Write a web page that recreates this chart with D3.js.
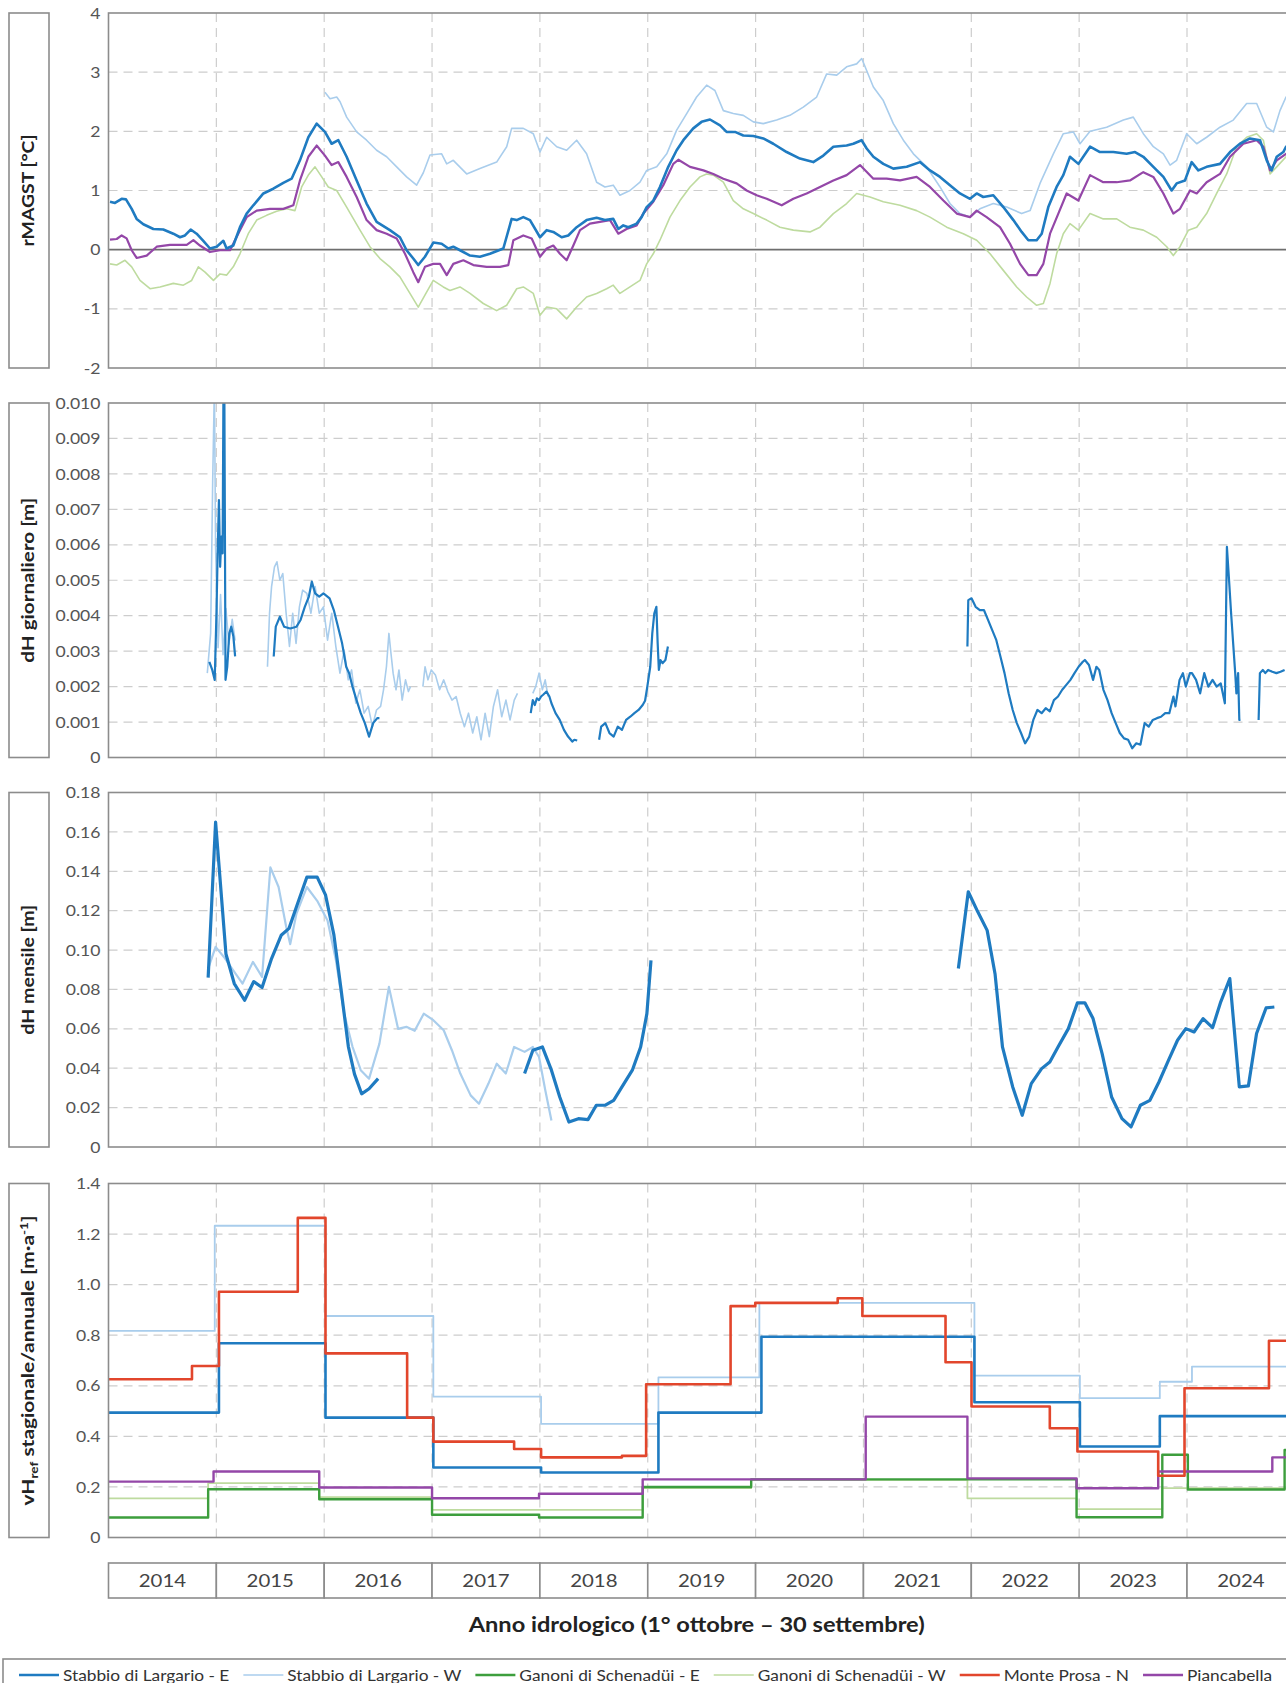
<!DOCTYPE html>
<html>
<head>
<meta charset="utf-8">
<script src="https://cdn.jsdelivr.net/npm/d3@7"></script>
<style>
  body { margin: 0; background: #fff; }
  svg { display: block; }
  text { font-family: Lato, "Open Sans", sans-serif; }
</style>
</head>
<body>
<svg id="chart"></svg>
<script>
// tempo t = anni trascorsi dal 1° ottobre 2013 (inizio anno idrologico 2014)
var anni = ["2014", "2015", "2016", "2017", "2018", "2019", "2020", "2021", "2022", "2023", "2024"];

var tickMagst = [-2, -1, 0, 1, 2, 3, 4];
var tickMagstLabels = ["-2", "-1", "0", "1", "2", "3", "4"];
var tickGiorn = [0, 0.001, 0.002, 0.003, 0.004, 0.005, 0.006, 0.007, 0.008, 0.009, 0.010];
var tickGiornLabels = ["0", "0.001", "0.002", "0.003", "0.004", "0.005", "0.006", "0.007", "0.008", "0.009", "0.010"];
var tickMens = [0, 0.02, 0.04, 0.06, 0.08, 0.10, 0.12, 0.14, 0.16, 0.18];
var tickMensLabels = ["0", "0.02", "0.04", "0.06", "0.08", "0.10", "0.12", "0.14", "0.16", "0.18"];
var tickVel = [0, 0.2, 0.4, 0.6, 0.8, 1.0, 1.2, 1.4];
var tickVelLabels = ["0", "0.2", "0.4", "0.6", "0.8", "1.0", "1.2", "1.4"];

// rMAGST [°C]
var magstStabbioE = [[0.014,0.81],[0.06,0.79],[0.122,0.86],[0.162,0.85],[0.215,0.69],[0.261,0.52],[0.323,0.43],[0.416,0.35],[0.508,0.34],[0.601,0.27],[0.663,0.21],[0.709,0.24],[0.762,0.34],[0.817,0.27],[0.879,0.15],[0.941,0.02],[1.003,0.05],[1.065,0.15],[1.095,0.02],[1.157,0.07],[1.219,0.38],[1.281,0.61],[1.343,0.75],[1.436,0.95],[1.528,1.03],[1.621,1.13],[1.698,1.2],[1.775,1.51],[1.853,1.9],[1.93,2.13],[2.007,1.99],[2.069,1.79],[2.131,1.85],[2.208,1.57],[2.301,1.17],[2.393,0.78],[2.486,0.47],[2.609,0.33],[2.702,0.21],[2.764,-0.01],[2.826,-0.15],[2.872,-0.26],[2.934,-0.12],[3.012,0.12],[3.089,0.1],[3.151,0.02],[3.197,0.05],[3.259,-0.01],[3.352,-0.1],[3.444,-0.12],[3.537,-0.07],[3.661,0.02],[3.738,0.52],[3.785,0.5],[3.846,0.55],[3.908,0.5],[4.001,0.21],[4.063,0.33],[4.124,0.3],[4.202,0.21],[4.263,0.24],[4.341,0.38],[4.433,0.5],[4.526,0.54],[4.603,0.5],[4.68,0.52],[4.727,0.35],[4.773,0.41],[4.82,0.38],[4.897,0.44],[4.943,0.55],[4.99,0.72],[5.051,0.83],[5.113,1.06],[5.19,1.4],[5.268,1.68],[5.33,1.85],[5.422,2.05],[5.499,2.16],[5.577,2.2],[5.67,2.1],[5.731,1.99],[5.809,1.99],[5.886,1.93],[5.979,1.92],[6.071,1.88],[6.164,1.79],[6.288,1.65],[6.411,1.54],[6.535,1.48],[6.628,1.59],[6.721,1.74],[6.844,1.76],[6.906,1.79],[6.983,1.85],[7.03,1.71],[7.092,1.57],[7.184,1.45],[7.277,1.37],[7.401,1.4],[7.524,1.48],[7.617,1.34],[7.71,1.23],[7.802,1.09],[7.895,0.95],[7.988,0.86],[8.05,0.95],[8.111,0.89],[8.204,0.92],[8.297,0.72],[8.39,0.5],[8.467,0.3],[8.529,0.16],[8.606,0.16],[8.653,0.27],[8.714,0.72],[8.791,1.06],[8.853,1.26],[8.915,1.57],[8.993,1.45],[9.101,1.74],[9.193,1.65],[9.317,1.65],[9.44,1.62],[9.518,1.65],[9.595,1.57],[9.688,1.4],[9.781,1.23],[9.858,1.0],[9.904,1.12],[9.981,1.17],[10.043,1.48],[10.105,1.34],[10.182,1.4],[10.306,1.45],[10.399,1.65],[10.491,1.79],[10.584,1.88],[10.677,1.85],[10.739,1.51],[10.785,1.34],[10.832,1.57],[10.893,1.65],[10.918,1.74],[11.0,1.78]];
var magstStabbioW = [[2.007,2.66],[2.054,2.55],[2.116,2.58],[2.147,2.5],[2.208,2.24],[2.301,1.99],[2.393,1.85],[2.486,1.68],[2.579,1.57],[2.672,1.4],[2.764,1.23],[2.857,1.09],[2.919,1.3],[2.981,1.6],[3.089,1.62],[3.136,1.45],[3.197,1.51],[3.321,1.28],[3.444,1.37],[3.599,1.48],[3.692,1.74],[3.738,2.05],[3.846,2.05],[3.939,1.96],[4.001,1.65],[4.063,1.9],[4.156,1.74],[4.248,1.68],[4.341,1.85],[4.433,1.62],[4.526,1.14],[4.603,1.06],[4.68,1.09],[4.742,0.92],[4.835,1.0],[4.928,1.14],[4.99,1.34],[5.083,1.4],[5.176,1.62],[5.268,2.02],[5.361,2.3],[5.453,2.58],[5.546,2.78],[5.623,2.69],[5.701,2.35],[5.793,2.3],[5.886,2.27],[5.979,2.16],[6.071,2.13],[6.195,2.19],[6.318,2.27],[6.442,2.41],[6.566,2.58],[6.659,2.97],[6.752,2.95],[6.844,3.09],[6.937,3.14],[6.984,3.23],[7.092,2.75],[7.184,2.52],[7.277,2.13],[7.37,1.85],[7.463,1.62],[7.586,1.4],[7.71,1.06],[7.802,0.78],[7.895,0.61],[7.988,0.55],[8.08,0.69],[8.204,0.78],[8.328,0.72],[8.467,0.61],[8.545,0.66],[8.637,1.12],[8.761,1.62],[8.853,1.96],[8.946,1.99],[9.008,1.79],[9.101,2.0],[9.255,2.07],[9.41,2.19],[9.502,2.24],[9.595,1.96],[9.688,1.74],[9.781,1.62],[9.843,1.43],[9.904,1.51],[9.997,1.96],[10.09,1.79],[10.182,1.9],[10.306,2.07],[10.429,2.19],[10.553,2.47],[10.646,2.47],[10.739,2.07],[10.801,1.99],[10.862,2.35],[10.918,2.58],[11.0,2.62]];
var magstGanoniW = [[0.014,-0.24],[0.076,-0.26],[0.153,-0.18],[0.215,-0.29],[0.292,-0.52],[0.385,-0.66],[0.478,-0.63],[0.601,-0.57],[0.694,-0.6],[0.771,-0.52],[0.833,-0.29],[0.895,-0.38],[0.973,-0.52],[1.034,-0.41],[1.096,-0.43],[1.157,-0.29],[1.219,-0.07],[1.296,0.27],[1.374,0.5],[1.466,0.58],[1.559,0.65],[1.652,0.69],[1.729,0.66],[1.791,1.06],[1.853,1.26],[1.915,1.4],[1.977,1.23],[2.038,1.06],[2.116,1.0],[2.208,0.72],[2.332,0.33],[2.424,0.05],[2.517,-0.15],[2.609,-0.29],[2.702,-0.46],[2.795,-0.74],[2.872,-0.97],[2.934,-0.77],[3.011,-0.52],[3.104,-0.63],[3.166,-0.69],[3.259,-0.63],[3.352,-0.74],[3.475,-0.91],[3.599,-1.03],[3.692,-0.94],[3.785,-0.66],[3.846,-0.63],[3.939,-0.74],[4.001,-1.11],[4.063,-0.97],[4.156,-1.0],[4.248,-1.17],[4.341,-0.97],[4.433,-0.8],[4.526,-0.74],[4.619,-0.66],[4.68,-0.6],[4.742,-0.74],[4.835,-0.63],[4.928,-0.52],[4.99,-0.24],[5.051,-0.07],[5.113,0.16],[5.206,0.55],[5.299,0.83],[5.392,1.06],[5.484,1.23],[5.546,1.28],[5.608,1.26],[5.701,1.14],[5.793,0.83],[5.886,0.69],[5.979,0.61],[6.103,0.5],[6.226,0.38],[6.35,0.33],[6.504,0.3],[6.597,0.38],[6.721,0.61],[6.844,0.78],[6.937,0.95],[7.061,0.89],[7.184,0.81],[7.339,0.75],[7.493,0.66],[7.617,0.55],[7.772,0.38],[7.926,0.27],[8.05,0.16],[8.174,-0.07],[8.297,-0.35],[8.421,-0.63],[8.513,-0.8],[8.606,-0.94],[8.668,-0.91],[8.73,-0.57],[8.791,-0.07],[8.853,0.27],[8.915,0.44],[8.993,0.33],[9.101,0.61],[9.224,0.52],[9.348,0.52],[9.471,0.38],[9.595,0.33],[9.719,0.21],[9.812,0.05],[9.873,-0.1],[9.935,0.05],[10.013,0.33],[10.09,0.38],[10.182,0.61],[10.275,0.95],[10.368,1.28],[10.46,1.74],[10.553,1.9],[10.646,1.96],[10.708,1.85],[10.77,1.28],[10.832,1.4],[10.918,1.57],[11.0,1.6]];
var magstPiancabella = [[0.014,0.17],[0.076,0.18],[0.122,0.24],[0.168,0.19],[0.215,-0.01],[0.261,-0.14],[0.354,-0.1],[0.447,0.05],[0.57,0.08],[0.725,0.08],[0.787,0.16],[0.848,0.07],[0.941,-0.04],[1.034,-0.01],[1.127,-0.01],[1.219,0.33],[1.281,0.55],[1.374,0.66],[1.497,0.69],[1.621,0.69],[1.714,0.75],[1.775,1.17],[1.853,1.57],[1.93,1.76],[2.007,1.59],[2.069,1.43],[2.131,1.48],[2.208,1.23],[2.301,0.89],[2.393,0.5],[2.486,0.33],[2.579,0.27],[2.672,0.19],[2.749,-0.07],[2.826,-0.38],[2.872,-0.55],[2.934,-0.29],[3.011,-0.24],[3.074,-0.24],[3.136,-0.43],[3.197,-0.24],[3.29,-0.18],[3.383,-0.26],[3.506,-0.29],[3.63,-0.29],[3.707,-0.26],[3.754,0.16],[3.846,0.24],[3.924,0.19],[4.001,-0.12],[4.063,0.02],[4.124,0.07],[4.186,-0.07],[4.248,-0.18],[4.31,0.07],[4.372,0.33],[4.464,0.44],[4.557,0.47],[4.65,0.5],[4.727,0.27],[4.804,0.35],[4.897,0.41],[4.959,0.61],[5.051,0.81],[5.144,1.09],[5.237,1.45],[5.284,1.52],[5.392,1.4],[5.516,1.34],[5.608,1.28],[5.701,1.2],[5.824,1.12],[5.917,1.0],[6.01,0.92],[6.103,0.86],[6.242,0.75],[6.35,0.86],[6.473,0.95],[6.597,1.06],[6.721,1.17],[6.844,1.26],[6.968,1.43],[7.092,1.2],[7.215,1.2],[7.339,1.17],[7.493,1.23],[7.617,1.06],[7.741,0.83],[7.865,0.61],[7.988,0.55],[8.05,0.66],[8.142,0.55],[8.266,0.38],[8.359,0.1],[8.452,-0.24],[8.529,-0.43],[8.606,-0.43],[8.668,-0.24],[8.73,0.27],[8.807,0.61],[8.884,0.95],[8.993,0.83],[9.101,1.26],[9.224,1.14],[9.348,1.14],[9.471,1.17],[9.595,1.31],[9.688,1.23],[9.781,0.95],[9.873,0.61],[9.935,0.69],[10.028,1.0],[10.09,0.95],[10.182,1.14],[10.306,1.28],[10.399,1.57],[10.522,1.79],[10.646,1.85],[10.708,1.74],[10.77,1.34],[10.832,1.51],[10.918,1.62],[11.0,1.66]];

// dH giornaliero [m]  (null = interruzione della serie)
var dhGiornStabbioE = [[0.935,0.0027],[0.962,0.00247],[0.985,0.00219],[1.001,0.00407],[1.012,0.00576],[1.024,0.00726],[1.035,0.00538],[1.047,0.00623],[1.058,0.00576],[1.066,0.0105],[1.074,0.0105],[1.085,0.00219],[1.101,0.00256],[1.12,0.0035],[1.139,0.00369],[1.158,0.00341],[1.174,0.00285],[1.3,null],
  [1.532,0.00285],[1.551,0.00369],[1.589,0.00397],[1.628,0.00369],[1.685,0.00364],[1.743,0.00369],[1.781,0.00388],[1.82,0.00425],[1.858,0.00454],[1.885,0.00496],[1.916,0.00463],[1.954,0.00454],[1.993,0.00463],[2.05,0.00449],[2.089,0.00416],[2.128,0.00369],[2.166,0.00322],[2.204,0.00256],[2.231,0.00238],[2.262,0.002],[2.3,0.00162],[2.339,0.00125],[2.377,0.00097],[2.416,0.00059],[2.454,0.00097],[2.492,0.00111],[2.512,0.00111],[3.0,null],
  [3.915,0.00125],[3.934,0.00162],[3.953,0.00148],[3.972,0.00167],[3.992,0.00162],[4.011,0.00172],[4.03,0.00177],[4.061,0.00186],[4.088,0.00172],[4.107,0.00153],[4.145,0.00125],[4.184,0.00106],[4.223,0.00078],[4.261,0.00059],[4.3,0.00045],[4.319,0.0005],[4.346,0.00048],[4.45,null],
  [4.549,0.0005],[4.568,0.00087],[4.607,0.00097],[4.645,0.00069],[4.684,0.00059],[4.722,0.00087],[4.761,0.00078],[4.799,0.00106],[4.838,0.00115],[4.876,0.00125],[4.915,0.00134],[4.953,0.00148],[4.975,0.0016],[4.996,0.002],[5.023,0.00256],[5.042,0.0035],[5.061,0.00407],[5.08,0.00425],[5.092,0.00322],[5.103,0.00247],[5.118,0.00275],[5.137,0.00266],[5.164,0.00275],[5.187,0.00313],[6.0,null],
  [7.964,0.00313],[7.972,0.00444],[8.002,0.00449],[8.04,0.00425],[8.079,0.00416],[8.117,0.00416],[8.155,0.00388],[8.193,0.0036],[8.232,0.00331],[8.27,0.00285],[8.308,0.00238],[8.346,0.00181],[8.384,0.00134],[8.422,0.00097],[8.461,0.00069],[8.499,0.0004],[8.537,0.00059],[8.575,0.00106],[8.613,0.00134],[8.652,0.00125],[8.69,0.00139],[8.728,0.0013],[8.766,0.00162],[8.804,0.00172],[8.843,0.00191],[8.881,0.00205],[8.919,0.00219],[8.957,0.00238],[8.995,0.00256],[9.034,0.0027],[9.053,0.00275],[9.091,0.00261],[9.129,0.00219],[9.16,0.00256],[9.186,0.00247],[9.225,0.00191],[9.263,0.00162],[9.301,0.00125],[9.339,0.00097],[9.377,0.00069],[9.416,0.00054],[9.454,0.0005],[9.492,0.00026],[9.53,0.0004],[9.568,0.00036],[9.607,0.00097],[9.645,0.00087],[9.683,0.00106],[9.721,0.00111],[9.759,0.00115],[9.798,0.00125],[9.836,0.00125],[9.874,0.00172],[9.893,0.00144],[9.931,0.00219],[9.962,0.00238],[9.989,0.002],[10.027,0.00238],[10.046,0.00238],[10.084,0.00219],[10.122,0.00181],[10.16,0.00238],[10.198,0.002],[10.237,0.00219],[10.275,0.002],[10.313,0.00209],[10.351,0.00153],[10.37,0.00594],[10.39,0.005],[10.409,0.00407],[10.428,0.00322],[10.447,0.00238],[10.458,0.00181],[10.474,0.00238],[10.485,0.00106],[10.496,0.00106],[10.58,null],
  [10.664,0.00106],[10.676,0.00238],[10.703,0.00247],[10.726,0.00238],[10.752,0.00247],[10.791,0.00242],[10.829,0.00238],[10.867,0.00242],[10.905,0.00247]];
var dhGiornStabbioW = [[0.916,0.00238],[0.947,0.0035],[0.966,0.0078],[0.982,0.0105],[0.993,0.0059],[1.016,0.0031],[1.039,0.0046],[1.062,0.0029],[1.089,0.0042],[1.116,0.0032],[1.147,0.0039],[1.174,0.0033],[1.3,null],
  [1.474,0.00256],[1.493,0.00407],[1.512,0.00482],[1.539,0.00538],[1.562,0.00552],[1.589,0.005],[1.616,0.00519],[1.647,0.00407],[1.678,0.00313],[1.708,0.00407],[1.739,0.00322],[1.77,0.00425],[1.8,0.00472],[1.839,0.00463],[1.877,0.00407],[1.916,0.00482],[1.954,0.00407],[1.993,0.00425],[2.031,0.00331],[2.07,0.00407],[2.108,0.00313],[2.146,0.00238],[2.185,0.00303],[2.223,0.00219],[2.254,0.00247],[2.293,0.00153],[2.331,0.00191],[2.37,0.00125],[2.408,0.00144],[2.447,0.00087],[2.485,0.00134],[2.523,0.00144],[2.55,0.00191],[2.577,0.00256],[2.6,0.0035],[2.619,0.00294],[2.639,0.00238],[2.666,0.00191],[2.693,0.00247],[2.723,0.00162],[2.754,0.00219],[2.781,0.00186],[2.8,0.002],[2.86,null],
  [2.915,0.002],[2.935,0.00256],[2.962,0.00219],[2.993,0.00247],[3.031,0.00233],[3.07,0.00191],[3.108,0.00219],[3.146,0.00186],[3.185,0.00162],[3.223,0.00172],[3.261,0.00125],[3.3,0.00087],[3.338,0.00125],[3.377,0.00069],[3.415,0.00115],[3.454,0.0005],[3.492,0.00125],[3.531,0.00059],[3.569,0.00144],[3.608,0.00191],[3.646,0.00115],[3.685,0.00162],[3.723,0.00106],[3.762,0.00162],[3.792,0.00181],[3.86,null],
  [3.934,0.00181],[3.961,0.002],[3.992,0.00238],[4.023,0.00191],[4.049,0.00219],[4.076,0.00172]];

// dH mensile [m]
var dhMensStabbioE = [[0.924,0.086],[0.993,0.165],[1.089,0.098],[1.166,0.083],[1.262,0.0745],[1.347,0.084],[1.424,0.081],[1.512,0.0957],[1.601,0.1075],[1.674,0.111],[1.743,0.122],[1.839,0.137],[1.935,0.137],[2.012,0.128],[2.089,0.108],[2.154,0.081],[2.224,0.051],[2.281,0.037],[2.347,0.027],[2.416,0.0296],[2.5,0.0347],[3.0,null],
  [3.858,0.0373],[3.935,0.0491],[4.023,0.0508],[4.107,0.039],[4.184,0.0254],[4.269,0.0127],[4.357,0.0144],[4.446,0.0139],[4.523,0.0212],[4.607,0.0212],[4.684,0.0237],[4.761,0.0305],[4.857,0.039],[4.934,0.0508],[4.992,0.0677],[5.03,0.0948],[6.0,null],
  [7.88,0.0906],[7.972,0.1296],[8.06,0.1194],[8.147,0.11],[8.22,0.088],[8.289,0.0508],[8.384,0.0305],[8.472,0.0161],[8.556,0.0322],[8.652,0.0398],[8.728,0.0432],[8.804,0.0508],[8.9,0.0601],[8.984,0.0732],[9.053,0.0732],[9.129,0.0652],[9.213,0.0474],[9.301,0.0254],[9.397,0.0144],[9.481,0.0102],[9.568,0.0212],[9.656,0.0237],[9.74,0.033],[9.828,0.044],[9.912,0.0542],[9.989,0.0601],[10.065,0.0584],[10.149,0.0652],[10.237,0.0606],[10.313,0.0737],[10.397,0.0855],[10.485,0.0305],[10.569,0.031],[10.645,0.0576],[10.733,0.0706],[10.81,0.0711]];
var dhMensStabbioW = [[0.924,0.0906],[0.993,0.1016],[1.07,0.0965],[1.155,0.0898],[1.243,0.083],[1.339,0.094],[1.424,0.0864],[1.501,0.142],[1.577,0.132],[1.647,0.112],[1.685,0.103],[1.743,0.1185],[1.839,0.132],[1.935,0.125],[2.031,0.115],[2.108,0.095],[2.185,0.0677],[2.262,0.051],[2.339,0.039],[2.416,0.0347],[2.512,0.0525],[2.6,0.0813],[2.685,0.06],[2.762,0.061],[2.839,0.059],[2.923,0.0677],[3.012,0.0644],[3.108,0.0593],[3.185,0.049],[3.262,0.0373],[3.358,0.0262],[3.435,0.022],[3.523,0.0322],[3.6,0.0423],[3.684,0.0373],[3.761,0.0508],[3.858,0.0483],[3.935,0.0508],[3.992,0.0457],[4.05,0.0288],[4.107,0.0135]];

// vH_ref stagionale/annuale [m·a-1]  (gradini: valore valido da t fino al punto successivo)
var velStabbioE = [[0,0.494],[1.024,0.768],[2.012,0.474],[3.012,0.277],[4.011,0.257],[5.099,0.494],[6.054,0.794],[8.029,0.535],[9.007,0.36],[9.748,0.48],[11,0.48]];
var velStabbioW = [[0,0.817],[0.985,1.233],[2.012,0.876],[3.012,0.557],[4.011,0.449],[5.099,0.633],[6.035,0.928],[8.029,0.64],[9.007,0.551],[9.748,0.616],[10.046,0.676],[11,0.676]];
var velGanoniE = [[0,0.079],[0.924,0.191],[1.954,0.151],[3.0,0.09],[3.992,0.079],[4.953,0.2],[5.959,0.23],[8.976,0.08],[9.771,0.327],[10.008,0.19],[10.905,0.346],[11,0.346]];
var velGanoniW = [[0,0.155],[0.924,0.215],[1.954,0.16],[3.0,0.109],[4.953,0.195],[5.959,0.228],[7.964,0.155],[8.976,0.112],[9.771,0.195],[11,0.195]];
var velMonteProsa = [[0,0.626],[0.774,0.678],[1.024,0.972],[1.755,1.264],[2.012,0.728],[2.769,0.474],[3.012,0.379],[3.761,0.35],[4.011,0.317],[4.761,0.323],[4.985,0.606],[5.768,0.915],[5.997,0.928],[6.761,0.946],[6.99,0.876],[7.761,0.693],[8.002,0.518],[8.728,0.432],[8.984,0.34],[9.733,0.244],[9.977,0.59],[10.76,0.778],[11,0.778]];
var velPiancabella = [[0,0.221],[0.974,0.261],[1.954,0.198],[3.0,0.155],[3.992,0.173],[4.953,0.23],[7.021,0.478],[7.964,0.234],[8.976,0.195],[9.733,0.261],[10.791,0.317],[11,0.317]];

var siti = ["Stabbio di Largario - E", "Stabbio di Largario - W", "Ganoni di Schenadüi - E", "Ganoni di Schenadüi - W", "Monte Prosa - N", "Piancabella"];
var colori = ["#1f7bc1", "#a9cdec", "#3d9e3d", "#bedb9f", "#e2462c", "#9447a8"];

var W = 1286, H = 1683;
var svg = d3.select("#chart").attr("width", W).attr("height", H);
svg.append("rect").attr("width", W).attr("height", H).attr("fill", "#fff");

var x = d3.scaleLinear().domain([0, anni.length]).range([108.5, 1294.85]);

// allarga un testo in orizzontale rispetto alla sua larghezza naturale
function stretch(sel, k) {
  sel.each(function() {
    var len = this.getComputedTextLength();
    d3.select(this).attr("textLength", len * k).attr("lengthAdjust", "spacingAndGlyphs");
  });
}

var panels = [
  { top: 13, bottom: 368, domain: [-2, 4], ticks: tickMagst, labels: tickMagstLabels, zero: true,
    title: "rMAGST [°C]", titleLen: 112,
    series: [
      { data: magstGanoniW, color: colori[3], w: 1.6 },
      { data: magstStabbioW, color: colori[1], w: 1.6 },
      { data: magstPiancabella, color: colori[5], w: 2.2 },
      { data: magstStabbioE, color: colori[0], w: 2.6 }
    ] },
  { top: 403, bottom: 757.5, domain: [0, 0.010], ticks: tickGiorn, labels: tickGiornLabels,
    title: "dH giornaliero [m]", titleLen: 165,
    series: [
      { data: dhGiornStabbioW, color: colori[1], w: 1.6 },
      { data: dhGiornStabbioE, color: colori[0], w: 2.2 }
    ] },
  { top: 792.5, bottom: 1147, domain: [0, 0.18], ticks: tickMens, labels: tickMensLabels,
    title: "dH mensile [m]", titleLen: 130,
    series: [
      { data: dhMensStabbioW, color: colori[1], w: 2.2 },
      { data: dhMensStabbioE, color: colori[0], w: 3.2 }
    ] },
  { top: 1183.5, bottom: 1537.5, domain: [0, 1.4], ticks: tickVel, labels: tickVelLabels, step: true,
    title: null, titleLen: 290,
    series: [
      { data: velGanoniW, color: colori[3], w: 1.8 },
      { data: velGanoniE, color: colori[2], w: 2.4 },
      { data: velStabbioW, color: colori[1], w: 1.8 },
      { data: velPiancabella, color: colori[5], w: 2.4 },
      { data: velStabbioE, color: colori[0], w: 2.6 },
      { data: velMonteProsa, color: colori[4], w: 2.6 }
    ] }
];

panels.forEach(function(p, i) {
  var y = d3.scaleLinear().domain(p.domain).range([p.bottom, p.top]);
  var g = svg.append("g");

  svg.append("clipPath").attr("id", "clip" + i)
    .append("rect")
    .attr("x", x(0)).attr("y", p.top)
    .attr("width", x(anni.length) - x(0)).attr("height", p.bottom - p.top);

  // griglia orizzontale tratteggiata
  g.selectAll(".hgrid")
    .data(p.ticks.filter(function(t) { return t !== p.domain[0] && t !== p.domain[1] && !(p.zero && t === 0); }))
    .enter().append("line")
    .attr("x1", x(0)).attr("x2", x(anni.length))
    .attr("y1", function(d) { return y(d); }).attr("y2", function(d) { return y(d); })
    .attr("stroke", "#cdcdcd").attr("stroke-width", 1.2).attr("stroke-dasharray", "9,6");

  // griglia verticale ai confini degli anni idrologici
  g.selectAll(".vgrid")
    .data(anni.slice(1).map(function(a, k) { return k + 1; }))
    .enter().append("line")
    .attr("x1", function(d) { return x(d); }).attr("x2", function(d) { return x(d); })
    .attr("y1", p.top).attr("y2", p.bottom)
    .attr("stroke", "#cdcdcd").attr("stroke-width", 1.2).attr("stroke-dasharray", "9,6");

  if (p.zero) {
    g.append("line")
      .attr("x1", x(0)).attr("x2", x(anni.length))
      .attr("y1", y(0)).attr("y2", y(0))
      .attr("stroke", "#6e6e6e").attr("stroke-width", 1.6);
  }

  var line = d3.line()
    .defined(function(d) { return d[1] !== null; })
    .x(function(d) { return x(d[0]); })
    .y(function(d) { return y(d[1]); })
    .curve(p.step ? d3.curveStepAfter : d3.curveLinear);

  var lg = g.append("g").attr("clip-path", "url(#clip" + i + ")");
  p.series.forEach(function(s) {
    lg.append("path")
      .datum(s.data)
      .attr("d", line)
      .attr("fill", "none")
      .attr("stroke", s.color)
      .attr("stroke-width", s.w)
      .attr("stroke-linejoin", "round");
  });

  // bordo dell'area del grafico
  g.append("rect")
    .attr("x", x(0)).attr("y", p.top)
    .attr("width", x(anni.length) - x(0)).attr("height", p.bottom - p.top)
    .attr("fill", "none").attr("stroke", "#8c8c8c").attr("stroke-width", 1.6);

  // asse y
  var axis = d3.axisLeft(y)
    .tickValues(p.ticks)
    .tickFormat(function(d, k) { return p.labels[k]; })
    .tickSize(0).tickPadding(8);
  var ag = g.append("g").attr("transform", "translate(" + x(0) + ",0)").call(axis);
  ag.select(".domain").remove();
  ag.selectAll("text")
    .attr("fill", "#555").style("font-size", "16px")
    .call(stretch, 1.1);

  // riquadro del titolo dell'asse y
  g.append("rect")
    .attr("x", 9).attr("y", p.top)
    .attr("width", 40).attr("height", p.bottom - p.top)
    .attr("fill", "#fff").attr("stroke", "#8c8c8c").attr("stroke-width", 1.6);

  var tt = g.append("text")
    .attr("transform", "translate(34," + ((p.top + p.bottom) / 2) + ") rotate(-90)")
    .attr("text-anchor", "middle")
    .attr("font-weight", "bold")
    .attr("fill", "#222")
    .style("font-size", "17px");
  if (p.title) {
    tt.text(p.title);
  } else {
    tt.append("tspan").text("vH");
    tt.append("tspan").attr("dy", 4).style("font-size", "11px").text("ref");
    tt.append("tspan").attr("dy", -4).text(" stagionale/annuale [m·a");
    tt.append("tspan").attr("dy", -6).style("font-size", "11px").text("-1");
    tt.append("tspan").attr("dy", 6).text("]");
  }
  tt.attr("textLength", p.titleLen).attr("lengthAdjust", "spacingAndGlyphs");
});

// riquadri degli anni idrologici
var yb = svg.append("g");
yb.selectAll(".cell")
  .data(anni)
  .enter().append("rect")
  .attr("x", function(d, k) { return x(k); })
  .attr("y", 1563)
  .attr("width", function(d, k) { return x(k + 1) - x(k); })
  .attr("height", 35)
  .attr("fill", "#fff").attr("stroke", "#8c8c8c").attr("stroke-width", 1.6);
yb.selectAll(".lab")
  .data(anni)
  .enter().append("text")
  .attr("x", function(d, k) { return (x(k) + x(k + 1)) / 2; })
  .attr("y", 1586.5)
  .attr("text-anchor", "middle")
  .attr("fill", "#444")
  .style("font-size", "17px")
  .text(function(d) { return d; })
  .call(stretch, 1.2);

svg.append("text")
  .attr("x", (x(0) + x(anni.length)) / 2 - 5)
  .attr("y", 1632)
  .attr("text-anchor", "middle")
  .attr("font-weight", "bold")
  .attr("fill", "#222")
  .style("font-size", "20px")
  .text("Anno idrologico (1° ottobre – 30 settembre)")
  .attr("textLength", 456).attr("lengthAdjust", "spacingAndGlyphs");

// legenda
var leg = svg.append("g");
leg.append("rect")
  .attr("x", 3).attr("y", 1659)
  .attr("width", 1300).attr("height", 50)
  .attr("fill", "#fff").attr("stroke", "#8c8c8c").attr("stroke-width", 1.6);
var legW = [2.6, 1.6, 2.4, 1.6, 2.6, 2.4];
var cx = 19;
siti.forEach(function(s, k) {
  leg.append("line")
    .attr("x1", cx).attr("x2", cx + 40)
    .attr("y1", 1675).attr("y2", 1675)
    .attr("stroke", colori[k]).attr("stroke-width", legW[k]);
  var t = leg.append("text")
    .attr("x", cx + 44).attr("y", 1680.5)
    .attr("fill", "#333")
    .style("font-size", "16px")
    .text(s);
  var len = t.node().getComputedTextLength() * 1.08;
  t.attr("textLength", len).attr("lengthAdjust", "spacingAndGlyphs");
  cx += 44 + len + 14;
});
</script>
</body>
</html>
